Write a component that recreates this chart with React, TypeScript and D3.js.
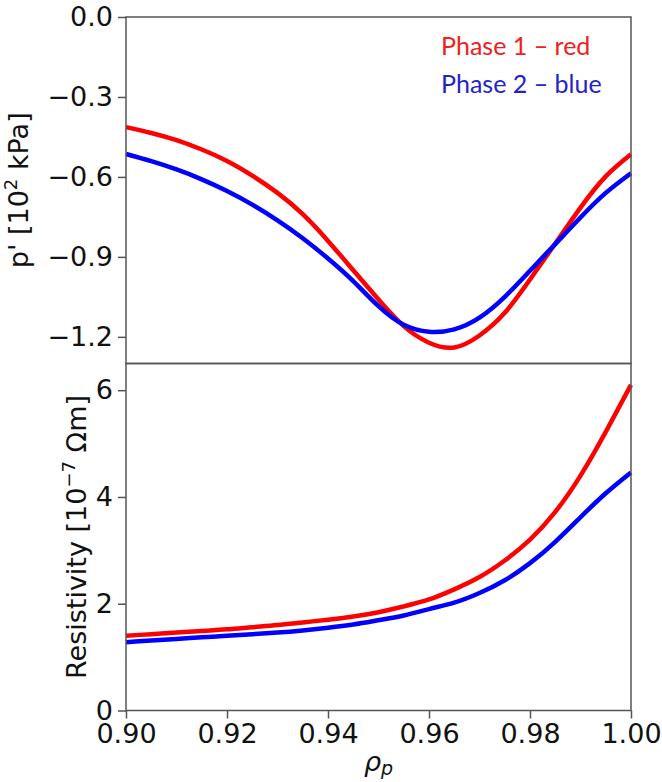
import React, { useEffect, useRef } from 'react';
import * as d3 from 'd3';

// rho_p grid shared by all four curves
const rho = [
  0.900, 0.905, 0.910, 0.915, 0.920, 0.925, 0.930, 0.935, 0.940, 0.945, 0.950,
  0.955, 0.960, 0.965, 0.970, 0.975, 0.980, 0.985, 0.990, 0.995, 1.000,
];

// p' [10^2 kPa]
const pressRed = [
  -0.413, -0.435, -0.462, -0.497, -0.540, -0.595, -0.660, -0.740, -0.840, -0.950, -1.060,
  -1.160, -1.222, -1.240, -1.195, -1.110, -0.985, -0.850, -0.715, -0.598, -0.515,
];
const pressBlue = [
  -0.514, -0.541, -0.572, -0.609, -0.653, -0.704, -0.763, -0.830, -0.906, -0.991, -1.085,
  -1.155, -1.181, -1.172, -1.128, -1.050, -0.952, -0.852, -0.752, -0.660, -0.586,
];

// Resistivity [10^-7 Ohm m]
const resRed = [
  1.40, 1.43, 1.46, 1.49, 1.52, 1.56, 1.60, 1.65, 1.70, 1.76, 1.84,
  1.95, 2.08, 2.27, 2.50, 2.81, 3.20, 3.72, 4.40, 5.22, 6.10,
];
const resBlue = [
  1.28, 1.31, 1.34, 1.37, 1.40, 1.43, 1.46, 1.50, 1.55, 1.61, 1.69,
  1.78, 1.90, 2.02, 2.20, 2.44, 2.76, 3.16, 3.62, 4.07, 4.46,
];

const xTicks = [0.90, 0.92, 0.94, 0.96, 0.98, 1.00];
const pressTicks = [0, -0.3, -0.6, -0.9, -1.2];
const resTicks = [0, 2, 4, 6];
const legendLabels = ['Phase 1 \u2013 red', 'Phase 2 \u2013 blue'];

const W = 662;
const H = 782;

const App = () => {
  const svgRef = useRef<SVGSVGElement>(null);

  useEffect(() => {
    const svg = d3.select(svgRef.current);
    svg.selectAll('*').remove();

    const left = 126, right = 631, top = 17, mid = 363.5, bottom = 710.5;
    const font = 'DejaVu Sans, sans-serif';
    const fs = 27;
    const axisColor = '#555';

    const x = d3.scaleLinear().domain([0.9, 1.0]).range([left, right]);
    const yTop = d3.scaleLinear().domain([-1.3, 0]).range([mid, top]);
    const yBot = d3.scaleLinear().domain([0, 6.5]).range([bottom, mid]);

    const drawPanel = (y: d3.ScaleLinear<number, number>, series: number[][], ticks: number[], fmt: (v: number) => string) => {
      const g = svg.append('g');
      const line = d3.line<number>()
        .x((_, i) => x(rho[i]))
        .y(d => y(d))
        .curve(d3.curveNatural);
      const colors = ['#ff0000', '#0000ff'];
      series.forEach((s, k) => {
        g.append('path')
          .datum(s)
          .attr('fill', 'none')
          .attr('stroke', colors[k])
          .attr('stroke-width', 4.5)
          .attr('d', line);
      });

      const yAxis = g.append('g')
        .attr('transform', `translate(${left},0)`)
        .call(d3.axisLeft(y).tickValues(ticks).tickSize(8).tickPadding(5).tickFormat(d => fmt(+d)));
      yAxis.select('.domain').remove();
      yAxis.selectAll('line').attr('stroke', axisColor).attr('stroke-width', 1.5);
      yAxis.selectAll('text')
        .attr('font-family', font)
        .attr('font-size', fs)
        .attr('fill', '#111');

      const [y0, y1] = y.range();
      g.append('rect')
        .attr('x', left).attr('y', y1)
        .attr('width', right - left).attr('height', y0 - y1)
        .attr('fill', 'none')
        .attr('stroke', axisColor)
        .attr('stroke-width', 1.5);
      return g;
    };

    drawPanel(yTop, [pressRed, pressBlue], pressTicks, v => d3.format('.1f')(v).replace('-', '\u2212'));
    drawPanel(yBot, [resRed, resBlue], resTicks, v => String(v));

    // x axis on bottom panel
    const xAxis = svg.append('g')
      .attr('transform', `translate(0,${bottom})`)
      .call(d3.axisBottom(x).tickValues(xTicks).tickSize(8).tickPadding(5).tickFormat(d => d3.format('.2f')(+d)));
    xAxis.select('.domain').remove();
    xAxis.selectAll('line').attr('stroke', axisColor).attr('stroke-width', 1.5);
    xAxis.selectAll('text')
      .attr('font-family', font)
      .attr('font-size', fs)
      .attr('fill', '#111');

    // axis labels
    const topLab = svg.append('text')
      .attr('transform', `translate(28,${(top + mid) / 2}) rotate(-90)`)
      .attr('text-anchor', 'middle')
      .attr('font-family', font)
      .attr('font-size', fs)
      .attr('fill', '#111');
    topLab.append('tspan').text("p' [10");
    topLab.append('tspan').attr('dy', -11).attr('font-size', 18).text('2');
    topLab.append('tspan').attr('dy', 11).text(' kPa]');

    const botLab = svg.append('text')
      .attr('transform', `translate(86,${(mid + bottom) / 2}) rotate(-90)`)
      .attr('text-anchor', 'middle')
      .attr('font-family', font)
      .attr('font-size', fs)
      .attr('fill', '#111');
    botLab.append('tspan').text('Resistivity [10');
    botLab.append('tspan').attr('dy', -11).attr('font-size', 18).text('\u22127');
    botLab.append('tspan').attr('dy', 11).text(' \u03a9m]');

    const xLab = svg.append('text')
      .attr('x', (left + right) / 2)
      .attr('y', 771)
      .attr('text-anchor', 'middle')
      .attr('font-family', font)
      .attr('font-size', fs)
      .attr('font-style', 'italic')
      .attr('fill', '#111');
    xLab.append('tspan').text('\u03c1');
    xLab.append('tspan').attr('dy', 4).attr('font-size', 19).text('p');

    // legend text
    const legColors = ['#ee2020', '#2222cc'];
    legendLabels.forEach((t, i) => {
      svg.append('text')
        .attr('x', 441)
        .attr('y', 55 + i * 38)
        .attr('font-family', 'Lato, sans-serif')
        .attr('font-size', 25)
        .attr('fill', legColors[i])
        .text(t);
    });
  }, []);

  return (
    <svg
      ref={svgRef}
      width={W}
      height={H}
      style={{ position: 'absolute', left: 0, top: 0, background: '#fff' }}
    />
  );
};

export default App;
